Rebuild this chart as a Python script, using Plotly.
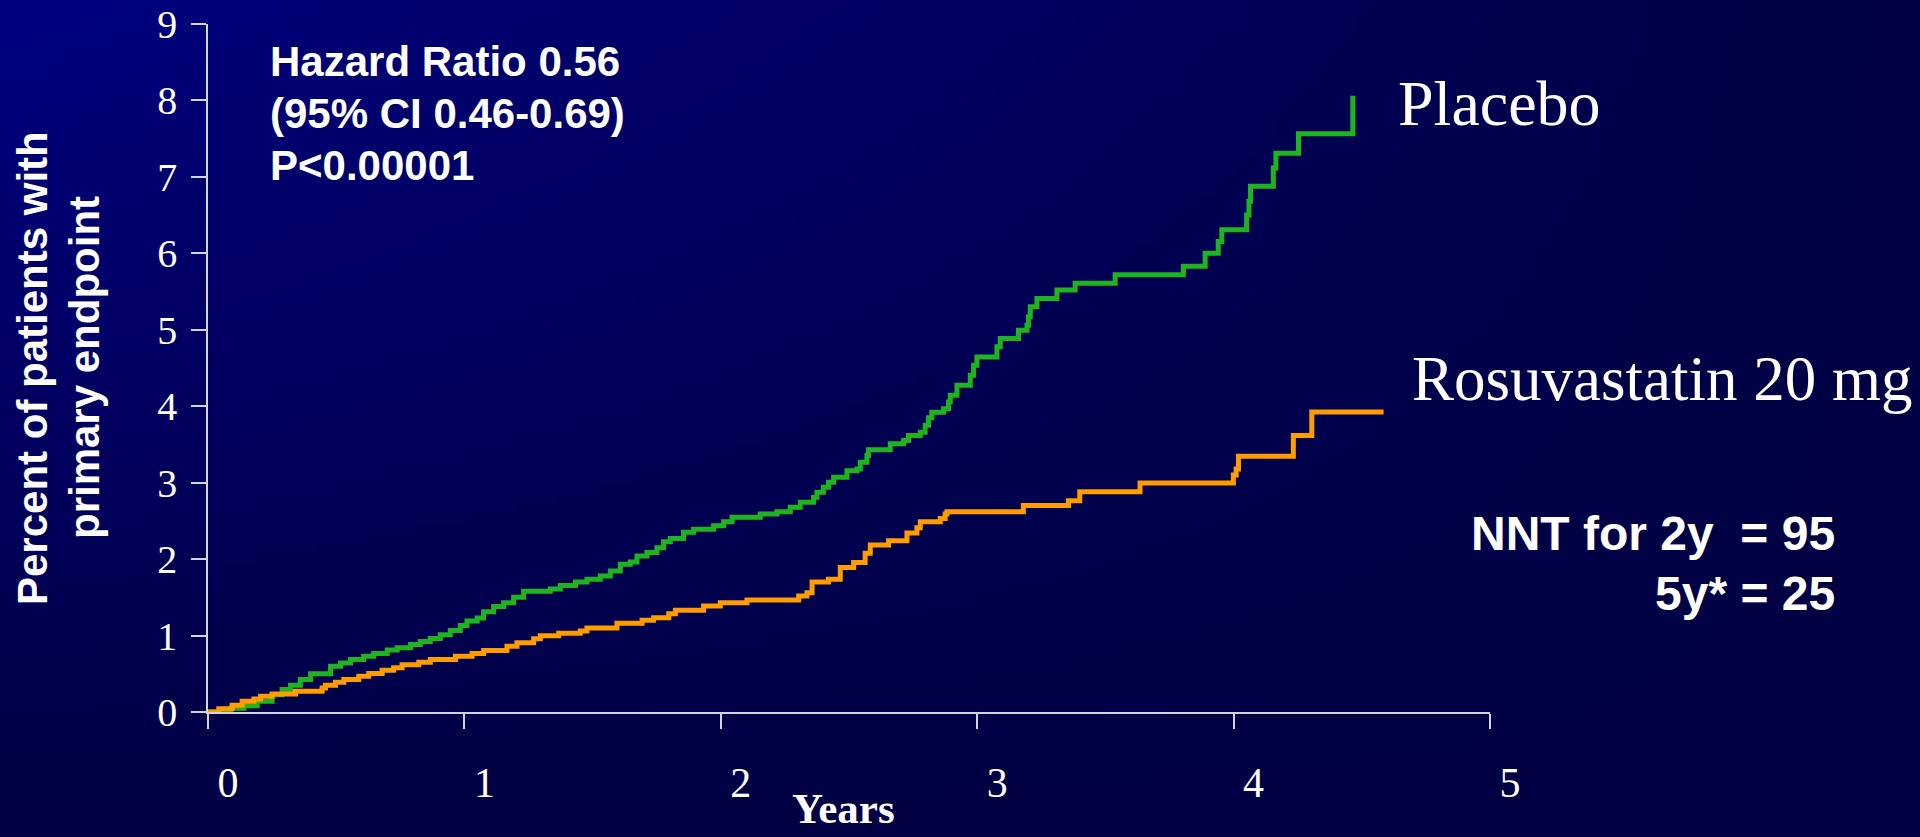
import base64
import struct
import zlib

import plotly.graph_objects as go

# Kaplan-Meier style cumulative incidence (step points: year, percent)
placebo_years = [0, 0.06, 0.088, 0.14, 0.192, 0.25, 0.289, 0.322, 0.36, 0.40, 0.478, 0.517, 0.556,
                 0.607, 0.646, 0.699, 0.738, 0.79, 0.828, 0.867, 0.906, 0.945, 0.984, 1.01, 1.05,
                 1.075, 1.114, 1.153, 1.192, 1.231, 1.335, 1.374, 1.433, 1.478, 1.53, 1.569, 1.608,
                 1.647, 1.673, 1.712, 1.751, 1.777, 1.803, 1.855, 1.894, 1.972, 2.011, 2.044, 2.154,
                 2.219, 2.271, 2.31, 2.362, 2.375, 2.40, 2.42, 2.44, 2.492, 2.531, 2.544, 2.57,
                 2.576, 2.661, 2.713, 2.732, 2.778, 2.797, 2.81, 2.823, 2.869, 2.888, 2.895, 2.921,
                 2.973, 2.986, 2.999, 3.077, 3.09, 3.161, 3.194, 3.20, 3.207, 3.233, 3.311, 3.382,
                 3.538, 3.804, 3.889, 3.94, 3.954, 4.051, 4.06, 4.066, 4.155, 4.165, 4.253, 4.465]
placebo_pct = [0, 0.03, 0.05, 0.083, 0.14, 0.227, 0.293, 0.35, 0.424, 0.50, 0.60, 0.64, 0.686,
               0.73, 0.765, 0.81, 0.84, 0.883, 0.922, 0.962, 1.01, 1.067, 1.133, 1.19, 1.23,
               1.31, 1.38, 1.43, 1.50, 1.58, 1.61, 1.655, 1.70, 1.736, 1.78, 1.845, 1.933,
               1.963, 2.04, 2.086, 2.15, 2.226, 2.27, 2.35, 2.39, 2.436, 2.49, 2.546, 2.59,
               2.62, 2.677, 2.743, 2.808, 2.874, 2.94, 3.005, 3.07, 3.157, 3.18, 3.268, 3.354,
               3.43, 3.51, 3.55, 3.617, 3.66, 3.75, 3.85, 3.92, 3.967, 4.055, 4.142, 4.273,
               4.404, 4.535, 4.645, 4.777, 4.886, 4.995, 5.06, 5.17, 5.30, 5.41, 5.52, 5.61,
               5.72, 5.83, 6.0, 6.155, 6.31, 6.50, 6.68, 6.877, 7.117, 7.31, 7.563, 8.06]

rosuva_years = [0, 0.042, 0.094, 0.133, 0.179, 0.205, 0.25, 0.341, 0.445, 0.458, 0.497, 0.53,
                0.588, 0.627, 0.679, 0.724, 0.757, 0.822, 0.867, 0.965, 1.03, 1.075, 1.166,
                1.205, 1.27, 1.296, 1.368, 1.452, 1.478, 1.595, 1.693, 1.738, 1.797, 1.823,
                1.933, 1.998, 2.102, 2.304, 2.336, 2.356, 2.42, 2.466, 2.518, 2.563, 2.583,
                2.654, 2.726, 2.765, 2.778, 2.856, 2.875, 2.882, 3.18, 3.356, 3.40, 3.635,
                3.999, 4.01, 4.019, 4.233, 4.305, 4.585]
rosuva_pct = [0, 0.043, 0.087, 0.14, 0.17, 0.205, 0.236, 0.27, 0.315, 0.35, 0.39, 0.424,
              0.467, 0.503, 0.546, 0.58, 0.617, 0.65, 0.686, 0.73, 0.765, 0.804, 0.861,
              0.905, 0.958, 0.997, 1.03, 1.058, 1.10, 1.16, 1.20, 1.233, 1.286, 1.33,
              1.386, 1.43, 1.465, 1.517, 1.56, 1.70, 1.736, 1.89, 1.955, 2.077, 2.186,
              2.24, 2.34, 2.41, 2.49, 2.53, 2.59, 2.62, 2.70, 2.764, 2.88, 2.996,
              3.10, 3.18, 3.346, 3.617, 3.924, 3.924]

year_ticks = [0, 1, 2, 3, 4, 5]
pct_ticks = [0, 1, 2, 3, 4, 5, 6, 7, 8, 9]

stats_lines = ["Hazard Ratio 0.56", "(95% CI 0.46-0.69)", "P<0.00001"]
nnt_lines = ["NNT for 2y\u00a0 = 95", "5y* = 25"]

W, H = 1920, 837
L, R, T, B = 208, 430, 24, 125
PW, PH = W - L - R, H - T - B

GREEN = "#1FB41F"
ORANGE = "#FF9C00"
AXIS = "#D4D4DC"


def px(x):
    return (x - L) / PW


def py(y):
    return (H - B - y) / PH


def gradient_png(w, h):
    # navy slide background, brightest in the top-left corner
    rows = b""
    for j in range(h):
        v = j / (h - 1)
        row = b"\x00"
        for i in range(w):
            u = i / (w - 1)
            blue = int(round(66 + 62 * (1 - u) * (1 - v)))
            row += bytes((0, 0, blue))
        rows += row

    def chunk(tag, data):
        c = tag + data
        return struct.pack(">I", len(data)) + c + struct.pack(">I", zlib.crc32(c) & 0xFFFFFFFF)

    png = b"\x89PNG\r\n\x1a\n"
    png += chunk(b"IHDR", struct.pack(">IIBBBBB", w, h, 8, 2, 0, 0, 0))
    png += chunk(b"IDAT", zlib.compress(rows, 9))
    png += chunk(b"IEND", b"")
    return "data:image/png;base64," + base64.b64encode(png).decode()


fig = go.Figure()
fig.add_trace(go.Scatter(x=placebo_years, y=placebo_pct, mode="lines", line_shape="hv",
                         line=dict(color=GREEN, width=5), name="Placebo", hoverinfo="skip"))
fig.add_trace(go.Scatter(x=rosuva_years, y=rosuva_pct, mode="lines", line_shape="hv",
                         line=dict(color=ORANGE, width=5), name="Rosuvastatin 20 mg",
                         hoverinfo="skip"))

serif = "Liberation Serif, Times New Roman, serif"
sans = "Liberation Sans, Arial, sans-serif"

fig.update_layout(
    width=W, height=H,
    margin=dict(l=L, r=R, t=T, b=B, pad=0, autoexpand=False),
    paper_bgcolor="#000052",
    plot_bgcolor="rgba(0,0,0,0)",
    showlegend=False,
    images=[dict(source=gradient_png(192, 84), xref="paper", yref="paper",
                 x=px(0), y=py(0), sizex=W / PW, sizey=H / PH,
                 xanchor="left", yanchor="top", sizing="stretch", layer="below")],
    xaxis=dict(range=[0, 5], tickvals=year_ticks, ticks="outside", ticklen=15, tickwidth=1.5,
               tickcolor=AXIS, showline=True, linecolor=AXIS, linewidth=1.5, showgrid=False,
               zeroline=False, automargin=False,
               tickfont=dict(family=serif, size=42, color="white"),
               ticklabelshift=20, ticklabelstandoff=18),
    yaxis=dict(range=[0, 9], tickvals=pct_ticks, ticks="outside", ticklen=15, tickwidth=1.5,
               tickcolor=AXIS, showline=True, linecolor=AXIS, linewidth=1.5, showgrid=False,
               zeroline=False, automargin=False,
               tickfont=dict(family=serif, size=40, color="white"),
               ticklabelstandoff=6),
)

ann = []
# axis titles
ann.append(dict(text="<b>Years</b>", x=px(843), y=py(808), xref="paper", yref="paper",
                xanchor="center", yanchor="middle", showarrow=False,
                font=dict(family=serif, size=43, color="white")))
ann.append(dict(text="<b>Percent of patients with</b>", x=px(32), y=py(368), xref="paper",
                yref="paper", xanchor="center", yanchor="middle", textangle=-90, showarrow=False,
                font=dict(family=sans, size=42, color="white")))
ann.append(dict(text="<b>primary endpoint</b>", x=px(84), y=py(368), xref="paper",
                yref="paper", xanchor="center", yanchor="middle", textangle=-90, showarrow=False,
                font=dict(family=sans, size=42, color="white")))

# statistics block
for k, line in enumerate(stats_lines):
    ann.append(dict(text=f"<b>{line}</b>", x=px(268), y=py(62 + 51.7 * k), xref="paper",
                    yref="paper", xanchor="left", yanchor="middle", showarrow=False,
                    font=dict(family=sans, size=42, color="white")))

# series labels
ann.append(dict(text="Placebo", x=px(1396), y=py(104), xref="paper", yref="paper",
                xanchor="left", yanchor="middle", showarrow=False,
                font=dict(family=serif, size=64, color="white")))
ann.append(dict(text="Rosuvastatin 20 mg", x=px(1410), y=py(379), xref="paper", yref="paper",
                xanchor="left", yanchor="middle", showarrow=False,
                font=dict(family=serif, size=63, color="white")))

# number needed to treat
for k, line in enumerate(nnt_lines):
    ann.append(dict(text=f"<b>{line}</b>", x=px(1837), y=py(533 + 60 * k), xref="paper",
                    yref="paper", xanchor="right", yanchor="middle", showarrow=False,
                    font=dict(family=sans, size=48, color="white")))

fig.update_layout(annotations=ann)
fig.write_html("out.html")
